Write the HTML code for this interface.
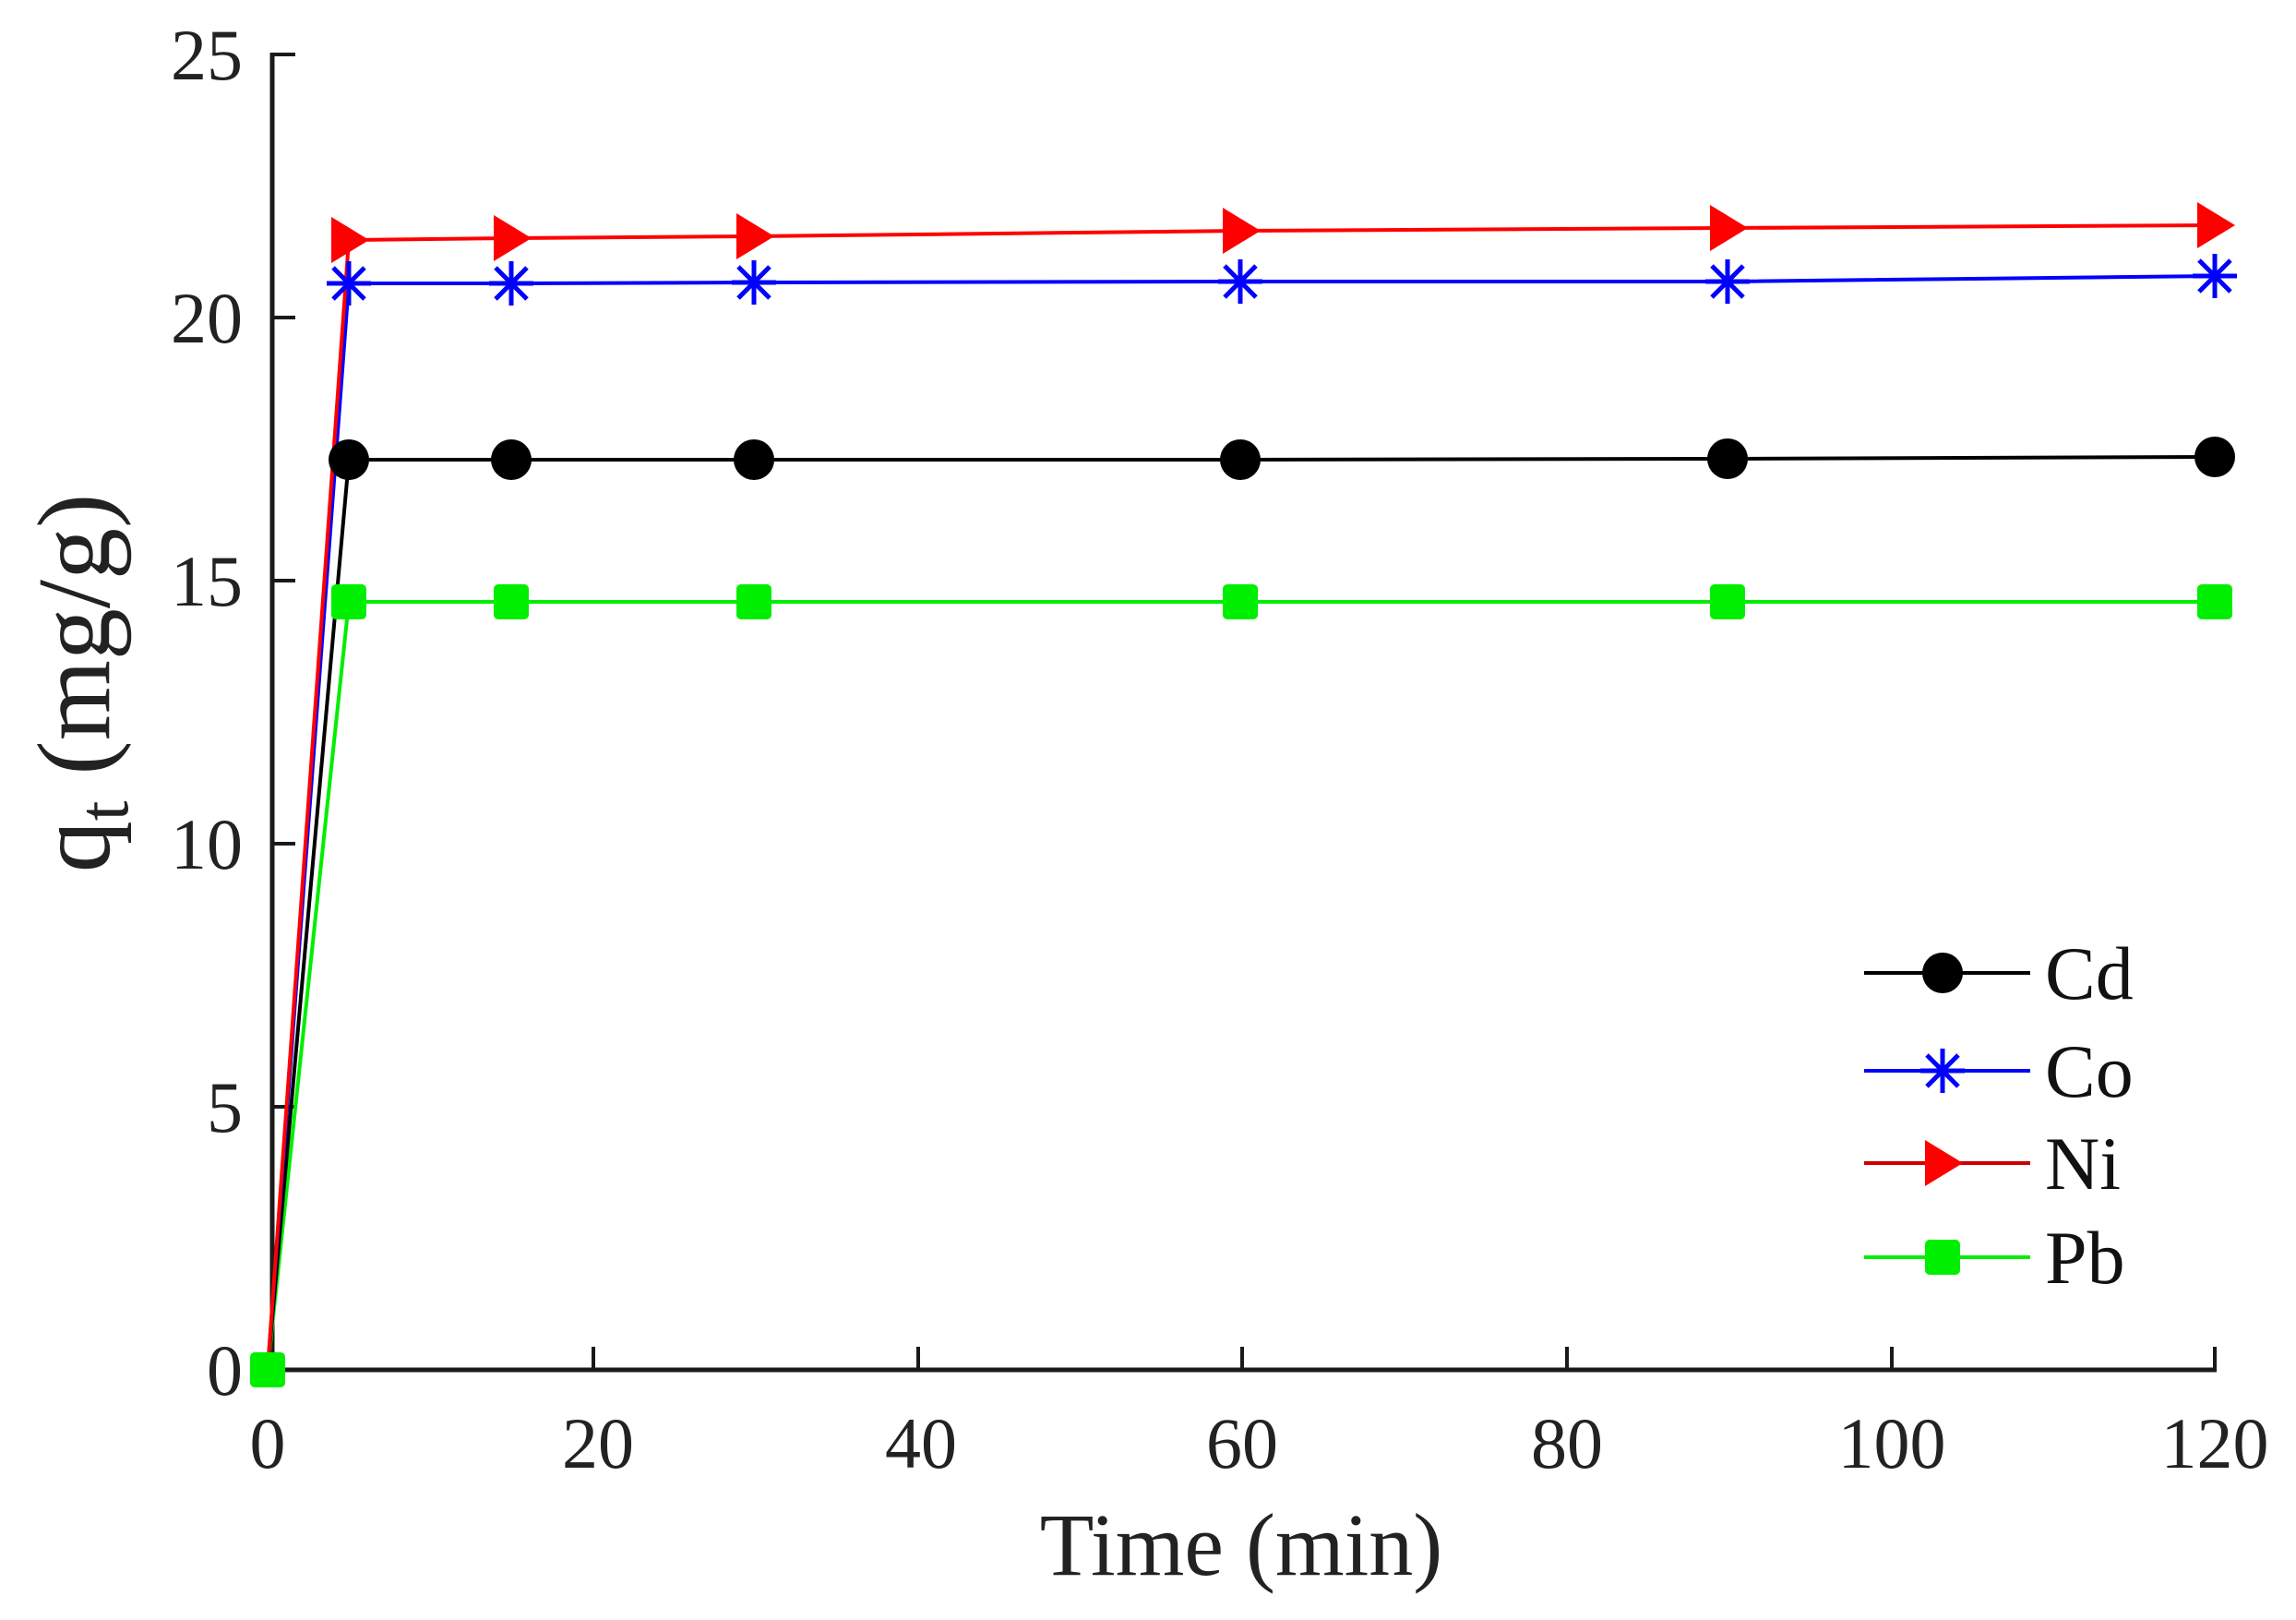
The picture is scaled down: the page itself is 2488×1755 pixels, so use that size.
<!DOCTYPE html>
<html><head><style>html,body{margin:0;padding:0;background:#fff}</style></head>
<body>
<svg width="2488" height="1750" viewBox="0 0 2488 1750" xmlns="http://www.w3.org/2000/svg" font-family="Liberation Serif, serif">
<defs>
<g id="dot"><circle r="22" fill="#000"/></g>
<g id="sq"><rect x="-19" y="-19" width="38" height="38" rx="5" fill="#00ee00"/></g>
<g id="tri"><polygon points="-19,-25 22,0 -19,25" fill="#ff0000"/></g>
<g id="star" stroke="#0000ff" stroke-width="5"><line x1="-24" y1="0" x2="24" y2="0"/><line x1="0" y1="-24" x2="0" y2="24"/><line x1="-17" y1="-17" x2="17" y2="17"/><line x1="-17" y1="17" x2="17" y2="-17"/></g>
</defs>
<g stroke="#1a1a1a" stroke-width="5" fill="none">
<line x1="295" y1="57" x2="295" y2="1486"/>
<line x1="293" y1="1484" x2="2402" y2="1484"/>
</g>
<g stroke="#1a1a1a" stroke-width="4">
<line x1="295" y1="59" x2="320" y2="59"/>
<line x1="295" y1="344" x2="320" y2="344"/>
<line x1="295" y1="629" x2="320" y2="629"/>
<line x1="295" y1="914" x2="320" y2="914"/>
<line x1="295" y1="1199" x2="320" y2="1199"/>
<line x1="643" y1="1484" x2="643" y2="1459"/>
<line x1="995" y1="1484" x2="995" y2="1459"/>
<line x1="1346" y1="1484" x2="1346" y2="1459"/>
<line x1="1698" y1="1484" x2="1698" y2="1459"/>
<line x1="2050" y1="1484" x2="2050" y2="1459"/>
<line x1="2400" y1="1484" x2="2400" y2="1459"/>
</g>
<g font-size="78" fill="#222" text-anchor="end">
<text x="263" y="86">25</text>
<text x="263" y="371">20</text>
<text x="263" y="656">15</text>
<text x="263" y="941">10</text>
<text x="263" y="1226">5</text>
<text x="263" y="1511">0</text>
</g>
<g font-size="78" fill="#222" text-anchor="middle">
<text x="290" y="1590">0</text>
<text x="648" y="1590">20</text>
<text x="998" y="1590">40</text>
<text x="1346" y="1590">60</text>
<text x="1698" y="1590">80</text>
<text x="2050" y="1590">100</text>
<text x="2400" y="1590">120</text>
<text x="1345" y="1706" font-size="96">Time (min)</text>
</g>
<text transform="translate(118,740) rotate(-90)" font-size="112" fill="#222" text-anchor="middle">q<tspan font-size="78" dy="20">t</tspan><tspan dy="-20"> (mg/g)</tspan></text>
<polyline fill="none" stroke="#00ee00" stroke-width="4" points="290,1484 378,652 554,652 817,652 1344,652 1872,652 2400,652"/>
<polyline fill="none" stroke="#000" stroke-width="4" points="290,1484 378,498 554,498 817,498 1344,498 1872,497 2400,495"/>
<polyline fill="none" stroke="#0000ff" stroke-width="4" points="290,1484 378,307 554,307 817,306 1344,305 1872,305 2400,299"/>
<polyline fill="none" stroke="#ff0000" stroke-width="4" points="290,1484 378,260 554,258 817,256 1344,250 1872,247 2400,244"/>
<g>
<use href="#sq" x="290" y="1484"/>
<use href="#sq" x="378" y="652"/><use href="#sq" x="554" y="652"/><use href="#sq" x="817" y="652"/><use href="#sq" x="1344" y="652"/><use href="#sq" x="1872" y="652"/><use href="#sq" x="2400" y="652"/>
<use href="#dot" x="378" y="498"/><use href="#dot" x="554" y="498"/><use href="#dot" x="817" y="498"/><use href="#dot" x="1344" y="498"/><use href="#dot" x="1872" y="497"/><use href="#dot" x="2400" y="495"/>
<use href="#star" x="378" y="307"/><use href="#star" x="554" y="307"/><use href="#star" x="817" y="306"/><use href="#star" x="1344" y="305"/><use href="#star" x="1872" y="305"/><use href="#star" x="2400" y="299"/>
<use href="#tri" x="378" y="260"/><use href="#tri" x="554" y="258"/><use href="#tri" x="817" y="256"/><use href="#tri" x="1344" y="250"/><use href="#tri" x="1872" y="247"/><use href="#tri" x="2400" y="244"/>
</g>
<g stroke-width="4">
<line x1="2020" y1="1054" x2="2200" y2="1054" stroke="#000"/>
<line x1="2020" y1="1160" x2="2200" y2="1160" stroke="#0000ff"/>
<line x1="2020" y1="1260" x2="2200" y2="1260" stroke="#cc0000"/>
<line x1="2020" y1="1362" x2="2200" y2="1362" stroke="#00ee00"/>
</g>
<use href="#dot" x="2105" y="1054"/>
<use href="#star" x="2105" y="1160"/>
<use href="#tri" x="2105" y="1260"/>
<use href="#sq" x="2105" y="1362"/>
<g font-size="82" fill="#111">
<text x="2216" y="1082">Cd</text>
<text x="2216" y="1188">Co</text>
<text x="2216" y="1288">Ni</text>
<text x="2216" y="1390">Pb</text>
</g>
</svg>
</body></html>
